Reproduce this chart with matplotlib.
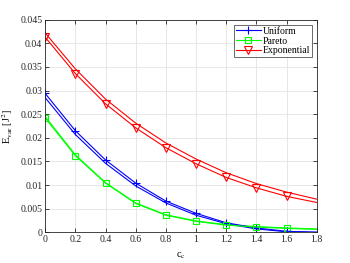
import matplotlib
matplotlib.use("Agg")
import matplotlib.pyplot as plt

plt.rcParams['font.family'] = ['Liberation Serif', 'DejaVu Serif']
plt.rcParams['mathtext.fontset'] = 'stix'

cc = [0, 0.2, 0.4, 0.6, 0.8, 1.0, 1.2, 1.4, 1.6, 1.8]

# curves with markers
uni_mk = [0.0294, 0.0215, 0.0153, 0.0104, 0.0066, 0.0040, 0.0020, 0.0009, 0.0002, 0.0000]
par_mk = [0.0242, 0.0162, 0.0104, 0.0061, 0.0036, 0.0023, 0.0015, 0.0011, 0.0008, 0.0006]
exp_mk = [0.0413, 0.0336, 0.0272, 0.0221, 0.0179, 0.0145, 0.0116, 0.0094, 0.0076, 0.0063]

# companion curves (no markers)
uni_ln = [0.0285, 0.0207, 0.0146, 0.0098, 0.0062, 0.0036, 0.0018, 0.0007, 0.0001, 0.0000]
par_ln = [0.0245, 0.0164, 0.0105, 0.0062, 0.0037, 0.0024, 0.0016, 0.0012, 0.0009, 0.0007]
exp_ln = [0.0422, 0.0346, 0.0282, 0.0231, 0.0189, 0.0155, 0.0126, 0.0103, 0.0085, 0.0070]

fig = plt.figure(figsize=(3.5, 2.63), dpi=100)
ax = fig.add_axes([0.129, 0.117, 0.776, 0.808])

lw = 0.8
ax.plot(cc, uni_ln, color='b', lw=lw)
ax.plot(cc, par_ln, color='#00ff00', lw=lw)
ax.plot(cc, exp_ln, color='r', lw=lw)
ax.plot(cc[:-1], uni_mk[:-1], color='b', lw=lw, marker='+', ms=6, mew=0.8, label='Uniform')
ax.plot(cc[:-1], par_mk[:-1], color='#00ff00', lw=lw, marker='s', ms=4.5, mew=0.8,
        mfc='none', label='Pareto')
ax.plot(cc[:-1], exp_mk[:-1], color='r', lw=lw, marker='v', ms=5.5, mew=0.8,
        mfc='none', label='Exponential')
# extend marker curves to 1.8 without markers
ax.plot(cc[-2:], uni_mk[-2:], color='b', lw=lw)
ax.plot(cc[-2:], par_mk[-2:], color='#00ff00', lw=lw)
ax.plot(cc[-2:], exp_mk[-2:], color='r', lw=lw)

ax.set_xlim(0, 1.8)
ax.set_ylim(0, 0.045)
xt = [0, 0.2, 0.4, 0.6, 0.8, 1, 1.2, 1.4, 1.6, 1.8]
ax.set_xticks(xt)
ax.set_xticklabels(['0', '0.2', '0.4', '0.6', '0.8', '1', '1.2', '1.4', '1.6', '1.8'])
yt = [0, 0.005, 0.01, 0.015, 0.02, 0.025, 0.03, 0.035, 0.04, 0.045]
ax.set_yticks(yt)
ax.set_yticklabels(['0', '0.005', '0.01', '0.015', '0.02', '0.025', '0.03', '0.035', '0.04', '0.045'])
ax.tick_params(direction='in', top=True, right=True, labelsize=7, length=3,
               width=0.6, colors='#262626', pad=2)
ax.grid(True, color='#e3e3e3', lw=0.6)
ax.set_axisbelow(True)
for s in ax.spines.values():
    s.set_linewidth(0.6)
    s.set_color('#262626')

ax.set_xlabel(r'c$_\mathrm{c}$', fontsize=7.5)
ax.set_ylabel(r'E$_\mathrm{var}$ [J$^2$]', fontsize=7.5)
ax.xaxis.set_label_coords(0.5, -0.085)
ax.yaxis.set_label_coords(-0.11, 0.5)

leg = ax.legend(loc='upper right', fontsize=7, frameon=True, fancybox=False,
                edgecolor='#262626', borderpad=0.2, labelspacing=0.1,
                handlelength=2.5, handletextpad=0.2, borderaxespad=0.5)
leg.get_frame().set_linewidth(0.6)

fig.savefig('out.png', dpi=100)
